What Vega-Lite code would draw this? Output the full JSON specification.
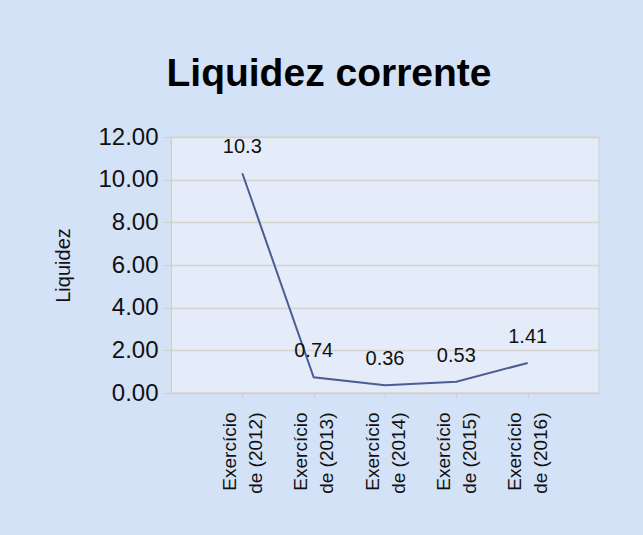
{
  "$schema": "https://vega.github.io/schema/vega-lite/v6.json",
  "width": 428,
  "height": 256,
  "autosize": {"type": "none"},
  "padding": {"left": 171, "top": 137, "right": 44, "bottom": 142},
  "background": "#d4e2f7",
  "title": {
    "text": "Liquidez corrente",
    "font": "Liberation Sans",
    "fontSize": 39,
    "fontWeight": "bold",
    "color": "#000000",
    "anchor": "middle",
    "dx": -56,
    "offset": 31
  },
  "data": {
    "values": [
      {"periodo": "Exercício\nde (2012)", "valor": 10.3, "rotulo": "10.3"},
      {"periodo": "Exercício\nde (2013)", "valor": 0.74, "rotulo": "0.74"},
      {"periodo": "Exercício\nde (2014)", "valor": 0.36, "rotulo": "0.36"},
      {"periodo": "Exercício\nde (2015)", "valor": 0.53, "rotulo": "0.53"},
      {"periodo": "Exercício\nde (2016)", "valor": 1.41, "rotulo": "1.41"}
    ]
  },
  "encoding": {
    "x": {
      "field": "periodo",
      "type": "ordinal",
      "sort": null,
      "scale": {"type": "point", "padding": 1},
      "axis": {
        "title": null,
        "labelAngle": -90,
        "labelAlign": "right",
        "labelBaseline": "middle",
        "labelFont": "Liberation Sans",
        "labelFontSize": 19,
        "labelColor": "#111111",
        "labelLineHeight": 26,
        "labelOffset": -13,
        "labelPadding": 14,
        "tickSize": 5,
        "tickColor": "#cfcfcf",
        "domainColor": "#cfcfcf",
        "grid": false,
        "labelExpr": "split(datum.value, '\\n')"
      }
    },
    "y": {
      "field": "valor",
      "type": "quantitative",
      "scale": {"domain": [0, 12]},
      "axis": {
        "title": "Liquidez",
        "titleFont": "Liberation Sans",
        "titleFontSize": 20,
        "titleFontWeight": "normal",
        "titleColor": "#111111",
        "titlePadding": 24,
        "values": [0, 2, 4, 6, 8, 10, 12],
        "format": ".2f",
        "labelFont": "Liberation Sans",
        "labelFontSize": 24,
        "labelColor": "#111111",
        "labelPadding": 6,
        "tickSize": 7,
        "tickColor": "#cfcfcf",
        "domainColor": "#cfcfcf",
        "gridColor": "#d6d3cd",
        "gridWidth": 1.5
      }
    }
  },
  "layer": [
    {
      "mark": {"type": "line", "color": "#4b5c96", "strokeWidth": 2}
    },
    {
      "mark": {"type": "text", "dy": -26, "font": "Liberation Sans", "fontSize": 20, "color": "#111111", "baseline": "middle"},
      "encoding": {"text": {"field": "rotulo"}}
    }
  ],
  "config": {
    "view": {"fill": "#e5ecf9", "stroke": "#d8d8d8", "strokeWidth": 1.5}
  }
}
